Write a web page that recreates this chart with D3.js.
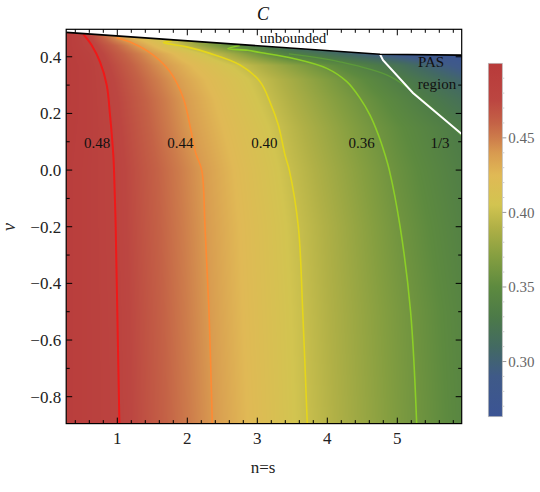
<!DOCTYPE html>
<html><head><meta charset="utf-8">
<script src="https://cdn.jsdelivr.net/npm/d3@7"></script>
<style>body{margin:0;background:#fff}svg{display:block}</style>
</head><body><div id="c"></div>
<script>
// ---- data ----
const nGrid  = [0.27, 0.6, 1.0, 1.5, 2.0, 2.5, 3.0, 3.5, 4.0, 4.5, 5.0, 5.5, 5.92];
const nuGrid = [-0.895, -0.5, -0.2, 0, 0.15, 0.25, 0.32, 0.37, 0.41, 0.44, 0.47, 0.5];
const cGrid = [
  [0.492,0.487,0.481,0.466,0.451,0.436,0.421,0.406,0.393,0.380,0.367,0.355,0.345],
  [0.492,0.487,0.480,0.465,0.4495,0.434,0.419,0.4045,0.391,0.378,0.365,0.353,0.343],
  [0.492,0.487,0.479,0.4635,0.448,0.4325,0.4175,0.4025,0.389,0.375,0.361,0.349,0.339],
  [0.492,0.487,0.4785,0.4625,0.4465,0.4305,0.4145,0.399,0.385,0.371,0.357,0.345,0.335],
  [0.493,0.488,0.477,0.459,0.441,0.4255,0.410,0.3945,0.380,0.3655,0.352,0.340,0.330],
  [0.494,0.488,0.4752,0.4567,0.4383,0.4215,0.4047,0.389,0.374,0.359,0.344,0.329,0.317],
  [0.494,0.488,0.473,0.4525,0.4337,0.417,0.4005,0.3845,0.368,0.351,0.334,0.317,0.303],
  [0.494,0.4877,0.4697,0.4473,0.4275,0.409,0.391,0.3725,0.3545,0.337,0.320,0.300,0.285],
  [0.494,0.485,0.4645,0.4404,0.4157,0.3906,0.362,0.334,0.318,0.300,0.285,0.273,0.265],
  [0.494,0.481,0.4577,0.426,0.3928,0.360,0.330,0.305,0.290,0.280,0.272,0.266,0.263],
  [0.495,0.478,0.440,0.410,0.380,0.350,0.320,0.300,0.285,0.275,0.268,0.264,0.263],
  [0.497,0.470,0.430,0.400,0.370,0.340,0.310,0.290,0.280,0.270,0.265,0.263,0.263]
];
const contour048 = [[0.516,0.479],[0.634,0.441],[0.753,0.382],[0.849,0.30],[0.896,0.194],[0.943,0.053],[0.953,0],[0.977,-0.2],[1.0,-0.5],[1.03,-0.895]];
const contour044 = [[0.99,0.467],[1.23,0.447],[1.514,0.406],[1.753,0.347],[1.944,0.253],[2.06,0.13],[2.12,0.06],[2.206,0],[2.253,-0.2],[2.31,-0.5],[2.357,-0.895]];
const contour040 = [[1.78,0.457],[1.66,0.45],[1.753,0.445],[1.99,0.435],[2.324,0.412],[2.753,0.371],[3.04,0.312],[3.18,0.241],[3.30,0.159],[3.396,0.053],[3.457,0],[3.586,-0.2],[3.649,-0.5],[3.714,-0.895]];
const contour036 = [[2.75,0.44],[2.58,0.429],[2.86,0.423],[3.04,0.415],[3.516,0.394],[3.993,0.359],[4.279,0.312],[4.469,0.253],[4.61,0.194],[4.73,0.124],[4.826,0.053],[4.886,0],[5.04,-0.2],[5.19,-0.5],[5.277,-0.895]];
const contour13  = [[3.45,0.41],[4.18,0.382],[4.9,0.33],[5.3,0.26],[5.8,0.15],[5.92,0.12]];
const contourLabels = ["0.48","0.44","0.40","0.36","1/3"];
const contourLabelN = [0.71, 1.90, 3.10, 4.49, 5.61];
const labelNu = 0.095;
const boundaryN  = [0.27, 4.753, 5.92];
const boundaryNu = [0.486, 0.409, 0.406];
const pasN  = [4.753, 4.796, 5.224, 5.92];
const pasNu = [0.409, 0.388, 0.272, 0.127];
const xTicks = [1,2,3,4,5];
const yTicks = [-0.8,-0.6,-0.4,-0.2,0.0,0.2,0.4];
const barTicks = [0.30,0.35,0.40,0.45];
const barRange = [0.263, 0.5];
// colour map (DarkRainbow-like) sampled from the colour bar
const cmapValues = [0.263,0.29,0.31,0.33,0.35,0.37,0.39,0.405,0.425,0.44,0.45,0.46,0.475,0.5];
const cmapColors = ["#3b5494","#3f5a88","#436a62","#4c7a48","#5d8a3f","#849e40","#b0b046","#d2c450","#e0b955","#d89a50","#cd7c4b","#c46246","#bc4641","#b83a3a"];

// ---- layout ----
const FONT = "'Liberation Serif', 'Times New Roman', Times, serif";
const W = 540, H = 492;
const x = d3.scaleLinear([0.27, 5.92], [66.2, 461.7]);
const y = d3.scaleLinear([-0.895, 0.497], [423.6, 29.3]);
const color = d3.scaleLinear(cmapValues, cmapColors).clamp(true);

const svg = d3.select("#c").append("svg").attr("width", W).attr("height", H)
  .attr("font-family", FONT).style("font-family", FONT);

// field raster
function field(n, v) {
  let i = Math.max(0, Math.min(nGrid.length - 2, d3.bisectRight(nGrid, n) - 1));
  let j = Math.max(0, Math.min(nuGrid.length - 2, d3.bisectRight(nuGrid, v) - 1));
  let t = Math.max(0, Math.min(1, (n - nGrid[i]) / (nGrid[i+1] - nGrid[i])));
  let u = Math.max(0, Math.min(1, (v - nuGrid[j]) / (nuGrid[j+1] - nuGrid[j])));
  const a = cGrid[j][i], b = cGrid[j][i+1], c = cGrid[j+1][i], d = cGrid[j+1][i+1];
  return (a*(1-t)+b*t)*(1-u) + (c*(1-t)+d*t)*u;
}
const x0 = Math.floor(x.range()[0]), x1 = Math.ceil(x.range()[1]);
const y0 = Math.floor(y.range()[1]), y1 = Math.ceil(y.range()[0]);
const cw = x1 - x0, ch = y1 - y0;
const canvas = document.createElement("canvas");
canvas.width = cw; canvas.height = ch;
const ctx = canvas.getContext("2d");
const img = ctx.createImageData(cw, ch);
for (let py = 0; py < ch; py++) {
  const v = y.invert(y0 + py + 0.5);
  for (let px = 0; px < cw; px++) {
    const n = x.invert(x0 + px + 0.5);
    const col = d3.rgb(color(field(n, v)));
    const k = (py * cw + px) * 4;
    img.data[k] = col.r; img.data[k+1] = col.g; img.data[k+2] = col.b; img.data[k+3] = 255;
  }
}
ctx.putImageData(img, 0, 0);

const defs = svg.append("defs");
const boundaryPts = boundaryN.map((n, i) => [x(n), y(boundaryNu[i])]);
defs.append("clipPath").attr("id", "below")
  .append("path")
  .attr("d", "M" + boundaryPts.map(p => p.join(",")).join("L") +
    `L${x.range()[1]},${y.range()[0]}L${x.range()[0]},${y.range()[0]}Z`);
defs.append("clipPath").attr("id", "frame")
  .append("rect").attr("x", x.range()[0]).attr("y", y.range()[1])
  .attr("width", x.range()[1]-x.range()[0]).attr("height", y.range()[0]-y.range()[1]);

svg.append("image").attr("x", x0).attr("y", y0).attr("width", cw).attr("height", ch)
  .attr("preserveAspectRatio", "none")
  .attr("href", canvas.toDataURL()).attr("clip-path", "url(#below)");

// contours
const line = d3.line().x(d => x(d[0])).y(d => y(d[1])).curve(d3.curveCatmullRom.alpha(0.5));
const g = svg.append("g").attr("clip-path", "url(#frame)");
const contours = [
  {pts: contour048, col: "#f01818", w: 2.0, op: 1},
  {pts: contour044, col: "#ff8a33", w: 1.6, op: 1},
  {pts: contour040, col: "#e6d619", w: 1.6, op: 1},
  {pts: contour036, col: "#8ccf26", w: 1.6, op: 1},
  {pts: contour13,  col: "#5fa038", w: 1.3, op: 0.8}
];
contours.forEach(c => g.append("path").attr("d", line(c.pts)).attr("fill", "none")
  .attr("stroke", c.col).attr("stroke-width", c.w).attr("stroke-opacity", c.op));

// PAS boundary (white) and unbounded boundary (black)
g.append("path").attr("d", d3.line().x((d,i)=>x(pasN[i])).y((d,i)=>y(pasNu[i]))(pasN))
  .attr("fill", "none").attr("stroke", "#fff").attr("stroke-width", 2);
g.append("path").attr("d", "M" + boundaryPts.map(p => p.join(",")).join("L"))
  .attr("fill", "none").attr("stroke", "#000").attr("stroke-width", 1.6);

// contour labels
contourLabels.forEach((t, i) => svg.append("text").attr("x", x(contourLabelN[i])).attr("y", y(labelNu) + 5)
  .attr("text-anchor", "middle").attr("font-size", 15).attr("fill", "#111").text(t));

// region labels
svg.append("text").attr("x", 293).attr("y", 42.5).attr("text-anchor", "middle").attr("font-size", 15).attr("fill", "#111").text("unbounded");
svg.append("text").attr("x", 431).attr("y", 67).attr("text-anchor", "middle").attr("font-size", 15).attr("fill", "#111").text("PAS");
svg.append("text").attr("x", 437).attr("y", 89).attr("text-anchor", "middle").attr("font-size", 15).attr("fill", "#111").text("region");

// frame + ticks
const fr = svg.append("g");
const [L, R] = x.range(), [B, T] = y.range();
fr.append("rect").attr("x", L).attr("y", T).attr("width", R-L).attr("height", B-T)
  .attr("fill", "none").attr("stroke", "#000").attr("stroke-width", 1.2);
const xMinor = d3.range(2, 30).filter(i => i % 5 !== 0).map(i => i * 0.2);
const yMinor = d3.range(-8, 5).filter(i => i % 2 !== 0).map(i => i * 0.1);
function tk(x1_, y1_, x2_, y2_) { fr.append("line").attr("x1", x1_).attr("y1", y1_).attr("x2", x2_).attr("y2", y2_).attr("stroke", "#000").attr("stroke-width", 1); }
xTicks.forEach(v => { tk(x(v), B, x(v), B-6); tk(x(v), T, x(v), T+6); });
xMinor.forEach(v => { tk(x(v), B, x(v), B-3.5); tk(x(v), T, x(v), T+3.5); });
yTicks.forEach(v => { tk(L, y(v), L+6, y(v)); tk(R, y(v), R-6, y(v)); });
yMinor.forEach(v => { tk(L, y(v), L+3.5, y(v)); tk(R, y(v), R-3.5, y(v)); });
const fmtY = d3.format(".1f");
xTicks.forEach(v => fr.append("text").attr("x", x(v)).attr("y", B + 20.5).attr("text-anchor", "middle")
  .attr("font-size", 17).attr("fill", "#222").text(v));
yTicks.forEach(v => fr.append("text").attr("x", L - 5).attr("y", y(v) + 6).attr("text-anchor", "end")
  .attr("font-size", 17).attr("fill", "#222").text(fmtY(v).replace("-", "\u2212")));

// titles
svg.append("text").attr("x", 263).attr("y", 20).attr("text-anchor", "middle").attr("font-size", 18)
  .attr("font-style", "italic").attr("fill", "#111").text("C");
svg.append("text").attr("x", 263).attr("y", 473).attr("text-anchor", "middle").attr("font-size", 17)
  .attr("fill", "#222").text("n=s");
svg.append("text").attr("transform", "translate(15,227) rotate(-90)").attr("text-anchor", "middle")
  .attr("font-size", 18).attr("font-style", "italic").attr("fill", "#222").text("\u03bd");

// colour bar
const by = d3.scaleLinear(barRange, [416.7, 63.3]);
const grad = defs.append("linearGradient").attr("id", "cb").attr("x1", 0).attr("y1", 1).attr("x2", 0).attr("y2", 0);
cmapValues.forEach((v, i) => grad.append("stop")
  .attr("offset", (v - barRange[0]) / (barRange[1] - barRange[0])).attr("stop-color", cmapColors[i]));
const bx = 488.3, bw = 14;
svg.append("rect").attr("x", bx).attr("y", by(barRange[1])).attr("width", bw).attr("height", by(barRange[0]) - by(barRange[1]))
  .attr("fill", "url(#cb)").attr("stroke", "#bbb").attr("stroke-width", 0.7);
const barMinor = d3.range(27, 50).map(i => i / 100).filter(v => !barTicks.some(t => Math.abs(t - v) < 1e-6));
barMinor.forEach(v => svg.append("line").attr("x1", bx + bw).attr("x2", bx + bw + 2).attr("y1", by(v)).attr("y2", by(v)).attr("stroke", "#ccc"));
barTicks.forEach(v => {
  svg.append("line").attr("x1", bx + bw).attr("x2", bx + bw + 4).attr("y1", by(v)).attr("y2", by(v)).attr("stroke", "#999");
  svg.append("text").attr("x", bx + bw + 6).attr("y", by(v) + 5.5).attr("font-size", 15).attr("fill", "#666").text(d3.format(".2f")(v));
});
</script></body></html>
